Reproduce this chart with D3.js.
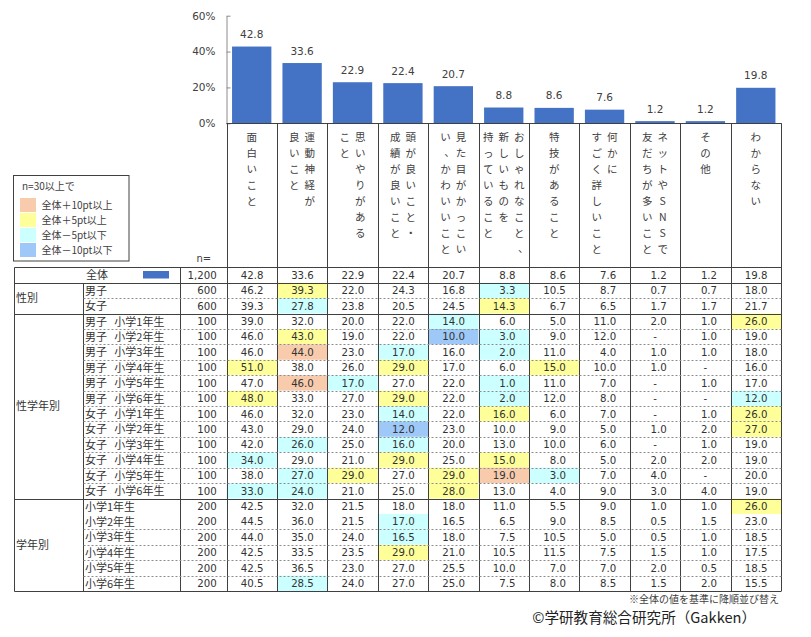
<!DOCTYPE html>
<html>
<head>
<meta charset="utf-8">
<script src="https://cdn.jsdelivr.net/npm/d3@7"></script>
<style>
    body { margin: 0; background: #fff; }
    text { font-family: "DejaVu Sans", "Noto Sans CJK JP", sans-serif; fill: #333; }
    .jp { font-family: "Noto Sans CJK JP", sans-serif; }
</style>
</head>
<body>
<svg id="chart" width="811" height="637"></svg>
<script>
// categories, sorted by the overall value
const categories = ["面白い", "運動神経", "思いやり", "頭が良い", "見た目", "おしゃれ", "特技", "詳しい", "ネット", "その他", "わからない"];
// vertical header text, one entry per column of characters (right to left)
const headerLines = [
    ["面白いこと"],
    ["運動神経が", "良いこと"],
    ["思いやりがある", "こと"],
    ["頭が良いこと・", "成績が良いこと"],
    ["見た目がかっこい", "い、かわいいこと"],
    ["おしゃれなこと、", "新しいものを", "持っていること"],
    ["特技があること"],
    ["何かに", "すごく詳しいこと"],
    ["ネットやSNSで", "友だちが多いこと"],
    ["その他"],
    ["わからない"]
];
const yTicks = [0, 20, 40, 60];

const totalN = "1,200";
const totalValues = [42.8, 33.6, 22.9, 22.4, 20.7, 8.8, 8.6, 7.6, 1.2, 1.2, 19.8];

const sexLabels = ["男子", "女子"];
const sexN = [600, 600];
const sexValues = [
    [46.2, 39.3, 22.0, 24.3, 16.8, 3.3, 10.5, 8.7, 0.7, 0.7, 18.0],
    [39.3, 27.8, 23.8, 20.5, 24.5, 14.3, 6.7, 6.5, 1.7, 1.7, 21.7]
];

const sexGradeLabels = [
    ["男子", "小学1年生"], ["男子", "小学2年生"], ["男子", "小学3年生"],
    ["男子", "小学4年生"], ["男子", "小学5年生"], ["男子", "小学6年生"],
    ["女子", "小学1年生"], ["女子", "小学2年生"], ["女子", "小学3年生"],
    ["女子", "小学4年生"], ["女子", "小学5年生"], ["女子", "小学6年生"]
];
const sexGradeN = [100, 100, 100, 100, 100, 100, 100, 100, 100, 100, 100, 100];
const sexGradeValues = [
    [39.0, 32.0, 20.0, 22.0, 14.0, 6.0, 5.0, 11.0, 2.0, 1.0, 26.0],
    [46.0, 43.0, 19.0, 22.0, 10.0, 3.0, 9.0, 12.0, null, 1.0, 19.0],
    [46.0, 44.0, 23.0, 17.0, 16.0, 2.0, 11.0, 4.0, 1.0, 1.0, 18.0],
    [51.0, 38.0, 26.0, 29.0, 17.0, 6.0, 15.0, 10.0, 1.0, null, 16.0],
    [47.0, 46.0, 17.0, 27.0, 22.0, 1.0, 11.0, 7.0, null, 1.0, 17.0],
    [48.0, 33.0, 27.0, 29.0, 22.0, 2.0, 12.0, 8.0, null, null, 12.0],
    [46.0, 32.0, 23.0, 14.0, 22.0, 16.0, 6.0, 7.0, null, 1.0, 26.0],
    [43.0, 29.0, 24.0, 12.0, 23.0, 10.0, 9.0, 5.0, 1.0, 2.0, 27.0],
    [42.0, 26.0, 25.0, 16.0, 20.0, 13.0, 10.0, 6.0, null, 1.0, 19.0],
    [34.0, 29.0, 21.0, 29.0, 25.0, 15.0, 8.0, 5.0, 2.0, 2.0, 19.0],
    [38.0, 27.0, 29.0, 27.0, 29.0, 19.0, 3.0, 7.0, 4.0, null, 20.0],
    [33.0, 24.0, 21.0, 25.0, 28.0, 13.0, 4.0, 9.0, 3.0, 4.0, 19.0]
];

const gradeLabels = ["小学1年生", "小学2年生", "小学3年生", "小学4年生", "小学5年生", "小学6年生"];
const gradeN = [200, 200, 200, 200, 200, 200];
const gradeValues = [
    [42.5, 32.0, 21.5, 18.0, 18.0, 11.0, 5.5, 9.0, 1.0, 1.0, 26.0],
    [44.5, 36.0, 21.5, 17.0, 16.5, 6.5, 9.0, 8.5, 0.5, 1.5, 23.0],
    [44.0, 35.0, 24.0, 16.5, 18.0, 7.5, 10.5, 5.0, 0.5, 1.0, 18.5],
    [42.5, 33.5, 23.5, 29.0, 21.0, 10.5, 11.5, 7.5, 1.5, 1.0, 17.5],
    [42.5, 36.5, 23.0, 27.0, 25.5, 10.0, 7.0, 7.0, 2.0, 0.5, 18.5],
    [40.5, 28.5, 24.0, 27.0, 25.0, 7.5, 8.0, 8.5, 1.5, 2.0, 15.5]
];

const legendLabels = ["全体＋10pt以上", "全体＋5pt以上", "全体－5pt以下", "全体－10pt以下"];

const BAR = "#4472C4";
const SHADES = ["#F8CBAD", "#FFFF99", "#CCFFFF", "#9DC8F8"];
const LINE = "#404040";

// rows of the table
const rows = [{ group: "全体", n: totalN, values: totalValues }];
sexLabels.forEach((l, i) => rows.push({ group: "性別", label: l, n: sexN[i], values: sexValues[i] }));
sexGradeLabels.forEach((l, i) => rows.push({ group: "性学年別", label: l[0], label2: l[1], n: sexGradeN[i], values: sexGradeValues[i] }));
gradeLabels.forEach((l, i) => rows.push({ group: "学年別", label: l, n: gradeN[i], values: gradeValues[i] }));

const svg = d3.select("#chart");
const crisp = (v) => Math.round(v) + 0.5;

const colScale = d3.scaleBand().domain(categories).range([226.5, 781]);
const barScale = d3.scaleBand().domain(categories).range([226.5, 781])
    .paddingInner(0.22).paddingOuter(0.11);
const y = d3.scaleLinear().domain([0, 60]).range([123.3, 15.7]);
const rowScale = d3.scaleBand().domain(d3.range(rows.length)).range([267.3, 591]);
const rowH = rowScale.bandwidth();
const colW = colScale.bandwidth();

function shade(v, base) {
    if (v == null) return null;
    const d = Math.round((v - base) * 10) / 10;
    if (d >= 10) return SHADES[0];
    if (d >= 5) return SHADES[1];
    if (d <= -10) return SHADES[3];
    if (d <= -5) return SHADES[2];
    return null;
}

// bars
svg.append("g")
    .selectAll("rect")
    .data(categories)
    .join("rect")
    .attr("x", (d) => barScale(d))
    .attr("width", barScale.bandwidth())
    .attr("y", (d, i) => y(totalValues[i]))
    .attr("height", (d, i) => y(0) - y(totalValues[i]))
    .attr("fill", BAR);

svg.append("g")
    .selectAll("text")
    .data(categories)
    .join("text")
    .attr("x", (d) => barScale(d) + barScale.bandwidth() / 2)
    .attr("y", (d, i) => y(totalValues[i]) - 8.5)
    .attr("text-anchor", "middle")
    .attr("font-size", "10.5px")
    .style("fill", "#404040")
    .text((d, i) => totalValues[i].toFixed(1));

// y axis
const yAxis = svg.append("g")
    .attr("transform", "translate(226.5,0)")
    .call(d3.axisLeft(y).tickValues(yTicks).tickFormat((d) => d + "%")
        .tickSizeInner(-4).tickSizeOuter(0).tickPadding(11));
yAxis.select(".domain").attr("stroke", "#8c8c8c");
yAxis.selectAll(".tick line").attr("stroke", "#8c8c8c");
yAxis.selectAll(".tick text")
    .attr("font-size", "10.5px")
    .attr("font-family", null)
    .style("fill", "#404040");

// vertical header text
const header = svg.append("g").attr("class", "jp");
categories.forEach((cat, i) => {
    const lines = headerLines[i];
    const cx = colScale(cat) + colW / 2;
    lines.forEach((line, j) => {
        const lx = cx + ((lines.length - 1) / 2 - j) * 15.5;
        Array.from(line).forEach((ch, k) => {
            let dx = 0, dy = 0;
            if (ch === "、") { dx = 4; dy = -1; }
            header.append("text")
                .attr("class", "jp")
                .attr("x", lx + dx)
                .attr("y", 136 + k * 16 + dy)
                .attr("text-anchor", "middle")
                .attr("dominant-baseline", "central")
                .attr("font-size", "10.5px")
                .style("fill", "#404040")
                .text(ch);
        });
    });
});

// cell shading
const cells = svg.append("g");
rows.forEach((r, ri) => {
    if (ri === 0) return;
    r.values.forEach((v, ci) => {
        const c = shade(v, totalValues[ci]);
        if (!c) return;
        cells.append("rect")
            .attr("x", colScale(categories[ci]))
            .attr("y", rowScale(ri))
            .attr("width", colW)
            .attr("height", rowH)
            .attr("fill", c);
    });
});

// grid lines
const grid = svg.append("g").attr("stroke", LINE).attr("stroke-width", 1);
const tableBottom = rowScale.range()[1];
const tableTop = rowScale.range()[0];
categories.forEach((cat) => {
    grid.append("line")
        .attr("x1", crisp(colScale(cat))).attr("x2", crisp(colScale(cat)))
        .attr("y1", y(0)).attr("y2", tableBottom);
});
grid.append("line").attr("x1", crisp(781)).attr("x2", crisp(781)).attr("y1", y(0)).attr("y2", tableBottom);
grid.append("line").attr("x1", 226.5).attr("x2", 781.5).attr("y1", crisp(y(0))).attr("y2", crisp(y(0)));
[14, 180].forEach((x) => {
    grid.append("line").attr("x1", crisp(x)).attr("x2", crisp(x)).attr("y1", crisp(tableTop)).attr("y2", crisp(tableBottom));
});
grid.append("line").attr("x1", crisp(83)).attr("x2", crisp(83)).attr("y1", crisp(rowScale(1))).attr("y2", crisp(tableBottom));

rows.forEach((r, ri) => {
    const yy = crisp(rowScale(ri));
    const prev = rows[ri - 1];
    if (ri === 0 || prev.group !== r.group) {
        grid.append("line").attr("x1", crisp(14)).attr("x2", crisp(781)).attr("y1", yy).attr("y2", yy);
    } else if (!(r.group === "学年別" && r.label === "小学2年生")) {
        grid.append("line").attr("x1", crisp(83)).attr("x2", crisp(781)).attr("y1", yy).attr("y2", yy)
            .attr("stroke", "#8c8c8c").attr("stroke-dasharray", "2,2");
    }
});
grid.append("line").attr("x1", crisp(14)).attr("x2", crisp(781)).attr("y1", crisp(tableBottom)).attr("y2", crisp(tableBottom));

// table text
const body = svg.append("g");
rows.forEach((r, ri) => {
    const ty = rowScale(ri) + rowH / 2 + 3.8;
    if (ri === 0) {
        body.append("text").attr("class", "jp").attr("x", 97).attr("y", ty + 0.5)
            .attr("text-anchor", "middle").attr("font-size", "11px").text("全体");
        body.append("rect").attr("x", 143).attr("y", rowScale(ri) + 3.7)
            .attr("width", 26).attr("height", 7.5).attr("fill", BAR);
    } else {
        body.append("text").attr("class", "jp").attr("x", 85).attr("y", ty + 0.5)
            .attr("font-size", "11px").text(r.label);
        if (r.label2) {
            body.append("text").attr("class", "jp").attr("x", 114.3).attr("y", ty + 0.5)
                .attr("font-size", "11px").text(r.label2);
        }
    }
    body.append("text").attr("x", 216.7).attr("y", ty).attr("text-anchor", "end")
        .attr("font-size", "10.2px").text(r.n);
    r.values.forEach((v, ci) => {
        const x0 = colScale(categories[ci]);
        body.append("text")
            .attr("x", v == null ? x0 + colW / 2 : x0 + colW - 13.5)
            .attr("y", ty)
            .attr("text-anchor", v == null ? "middle" : "end")
            .attr("font-size", "10.2px")
            .text(v == null ? "-" : v.toFixed(1));
    });
});

// group labels
["性別", "性学年別", "学年別"].forEach((g) => {
    const idx = rows.map((r, i) => (r.group === g ? i : -1)).filter((i) => i >= 0);
    const y0 = rowScale(idx[0]);
    const y1 = rowScale(idx[idx.length - 1]) + rowH;
    body.append("text").attr("class", "jp").attr("x", 16).attr("y", (y0 + y1) / 2 + 4.3)
        .attr("font-size", "11px").text(g);
});

// legend
const legend = svg.append("g");
legend.append("rect").attr("x", 13.5).attr("y", 175.5).attr("width", 115.5).attr("height", 85.5)
    .attr("fill", "none").attr("stroke", LINE);
legend.append("text").attr("class", "jp").attr("x", 22).attr("y", 189.5)
    .attr("font-size", "10px").style("fill", "#404040").text("n=30以上で");
legendLabels.forEach((l, i) => {
    legend.append("rect").attr("x", 20).attr("y", 198 + i * 15).attr("width", 16).attr("height", 14)
        .attr("fill", SHADES[i]);
    legend.append("text").attr("class", "jp").attr("x", 41.5).attr("y", 198 + i * 15 + 10.8)
        .attr("font-size", "10px").style("fill", "#404040").text(l);
});
svg.append("text").attr("x", 196.5).attr("y", 262).attr("font-size", "10px")
    .style("fill", "#404040").text("n=");

// footer
svg.append("text").attr("class", "jp").attr("x", 779).attr("y", 603).attr("text-anchor", "end")
    .attr("font-size", "10px").style("fill", "#404040").text("※全体の値を基準に降順並び替え");
svg.append("text").attr("class", "jp").attr("x", 756).attr("y", 623).attr("text-anchor", "end")
    .attr("font-size", "14.6px").style("fill", "#222").text("©学研教育総合研究所（Gakken）");
</script>
</body>
</html>
